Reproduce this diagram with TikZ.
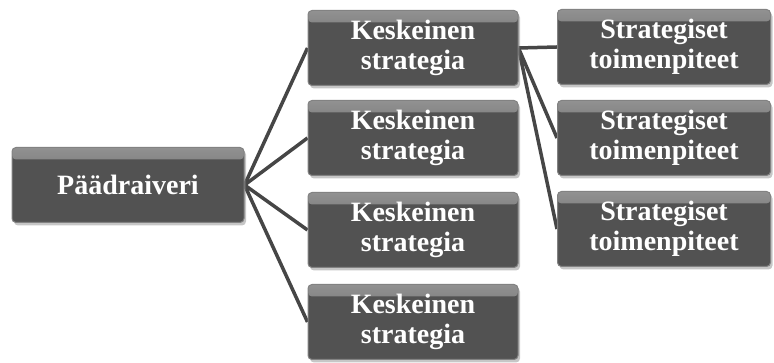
\documentclass[tikz,border=0pt]{standalone}
\usepackage{fontspec}
\setmainfont{Liberation Serif}
\usepackage{xcolor}
\usepackage{tikz}
\usetikzlibrary{positioning,shadows,backgrounds}

\definecolor{boxgray}{RGB}{82,82,82}
\definecolor{rimgray}{RGB}{130,130,130}
\definecolor{toplight}{RGB}{145,145,145}
\definecolor{linegray}{RGB}{70,70,70}

\tikzset{
  bevelbox/.style={fill=boxgray, draw=rimgray, line width=1pt, rounded corners=4pt,
    drop shadow={opacity=0.45, shadow xshift=2pt, shadow yshift=-3pt},
    path picture={\shade[top color=toplight, bottom color=boxgray]
      (path picture bounding box.north west) rectangle
      ([yshift=-12pt]path picture bounding box.north east);},
    text=white, font=\fontsize{28}{30}\selectfont\bfseries, align=center,
    minimum height=75pt, inner sep=0pt},
  fanline/.style={draw=linegray, line width=3.5pt}
}

\begin{document}
\begin{tikzpicture}[x=1pt,y=1pt]
    \useasboundingbox (0,0) rectangle (774,363);
    % main driver
    \node[bevelbox, minimum width=232pt] (root) at (128,178) {Päädraiveri};
    % central strategies
    \foreach \i/\y in {1/315,2/225,3/133,4/41} {
      \node[bevelbox, minimum width=210pt] (ks\i) at (413,\y) {Keskeinen\\strategia};
    }
    % strategic actions
    \foreach \i/\y in {1/316,2/225,3/134} {
      \node[bevelbox, minimum width=213pt] (st\i) at (664,\y) {Strategiset\\toimenpiteet};
    }
    \begin{scope}[on background layer]
      \foreach \i in {1,...,4} {\draw[fanline] (root.east) -- (ks\i.west);}
      \foreach \i in {1,...,3} {\draw[fanline] (ks1.east) -- (st\i.west);}
    \end{scope}
\end{tikzpicture}
\end{document}
